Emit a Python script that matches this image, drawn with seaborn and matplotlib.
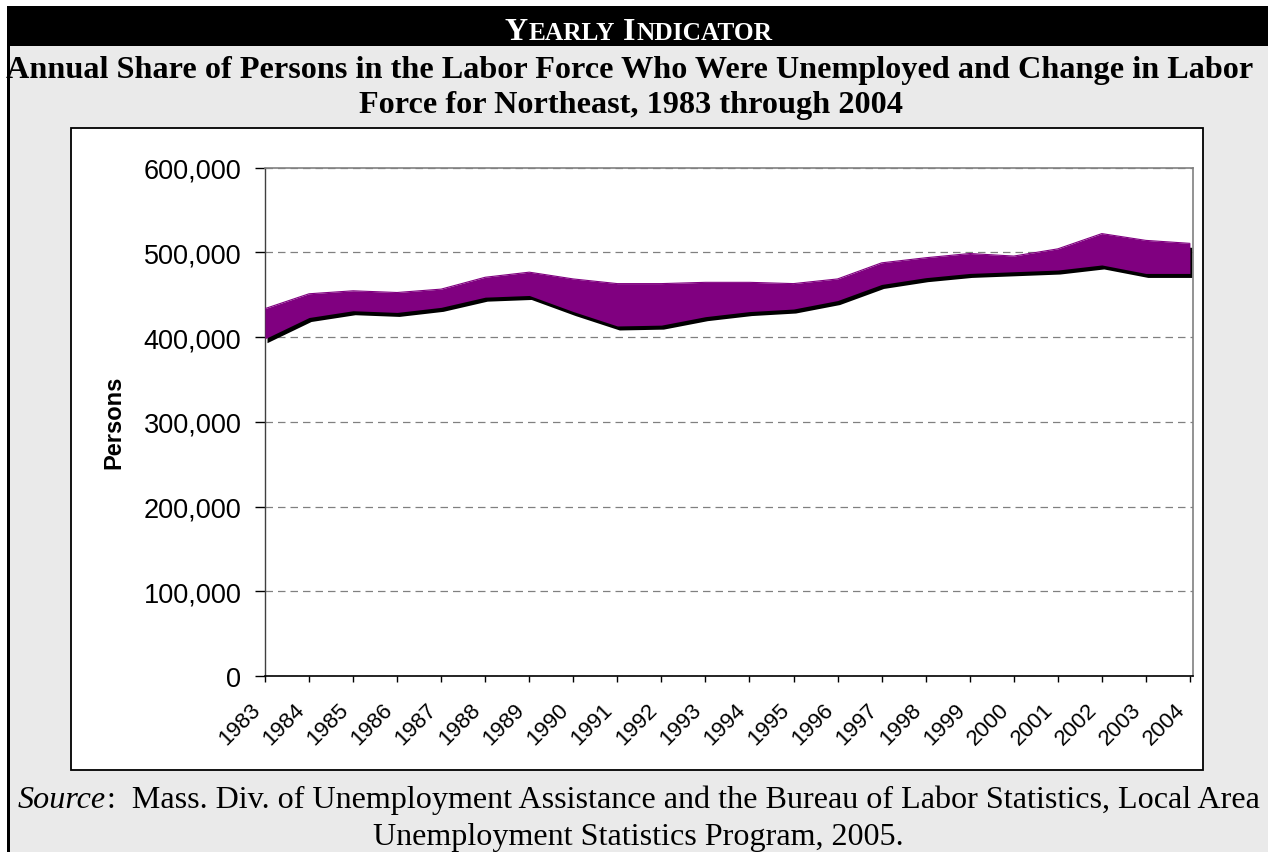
import numpy as np
import pandas as pd
import matplotlib
matplotlib.use('Agg')
import matplotlib.pyplot as plt
import matplotlib.ticker as mticker
import matplotlib.transforms as mtransforms
from matplotlib.patches import Rectangle
import seaborn as sns

# Data
years = list(range(1983, 2005))
employed = [398000, 423000, 431000, 429000, 435000, 447000, 449000, 430000, 413000, 414000, 424000,
            430000, 433000, 443000, 462000, 470000, 475000, 477000, 479000, 485000, 475000, 475000]
labor_force = [433500, 451000, 454500, 452500, 456500, 470500, 476500, 468500, 463000, 463000, 464500,
               464500, 463000, 468500, 487500, 493500, 498500, 495500, 504000, 522000, 514000, 510500]
y_ticks = [0, 100000, 200000, 300000, 400000, 500000, 600000]

header_runs = [('Y', 23), ('EARLY', 18.3), (' ', 18.3), ('I', 23), ('NDICATOR', 18.3)]
title_lines = ['Annual Share of Persons in the Labor Force Who Were Unemployed and Change in Labor',
               'Force for Northeast, 1983 through 2004']
source_line1 = ':  Mass. Div. of Unemployment Assistance and the Bureau of Labor Statistics, Local Area'
source_line2 = 'Unemployment Statistics Program, 2005.'

W, H = 1268, 853
sns.set_theme(style='white')
plt.rcParams['font.family'] = ['Liberation Sans', 'DejaVu Sans']

fig = plt.figure(figsize=(W / 100, H / 100), dpi=100)
fig.patch.set_facecolor('white')


def fx(x):
	return x / W


def fy(y):
	return 1 - y / H


def box(x0, y0, x1, y1, **kw):
	fig.add_artist(Rectangle((fx(x0), fy(y1)), fx(x1) - fx(x0), fy(y0) - fy(y1),
	                         transform=fig.transFigure, **kw))


def draw_runs(runs, cx, base_y, **common):
	# lay out pieces of text side by side, centred on cx
	r = fig.canvas.get_renderer()
	items = []
	total = 0
	for s, kw in runs:
		if s.strip() == '':
			w = 0.25 * kw['fontsize'] * fig.dpi / 72 * len(s)
			items.append((None, w))
		else:
			t = fig.text(0, fy(base_y), s, va='baseline', ha='left', **common, **kw)
			w = t.get_window_extent(r).width + 1
			items.append((t, w))
		total += w
	x = cx - total / 2
	for t, w in items:
		if t is not None:
			t.set_x(fx(x))
		x += w


# Frame pieces
box(7, 47, W, H, fc='#EAEAEA', ec='none', zorder=-5)
box(7, 47, 9.5, H, fc='black', ec='none', zorder=-4)
box(7, 7, W, 47, fc='black', ec='none', zorder=-4)
box(71, 129, 1203, 771, fc='white', ec='black', lw=1.3, zorder=-3)

serif = ['Liberation Serif', 'DejaVu Serif']
draw_runs([(s, {'fontsize': fs}) for s, fs in header_runs], 639, 40,
          family=serif, fontweight='bold', color='white')
fig.text(fx(630), fy(78), title_lines[0], ha='center', va='baseline', family=serif,
         fontweight='bold', fontsize=23.2, color='black')
fig.text(fx(631), fy(113), title_lines[1], ha='center', va='baseline', family=serif,
         fontweight='bold', fontsize=23.2, color='black')
draw_runs([('Source', {'fontsize': 23.1, 'fontstyle': 'italic'}), (source_line1, {'fontsize': 23.1})],
          639, 808, family=serif, color='black')
fig.text(fx(638), fy(845), source_line2, ha='center', va='baseline', family=serif,
         fontsize=23.1, color='black')

# Plot area
ax = fig.add_axes([fx(265), fy(677), fx(1193) - fx(265), (677 - 168.5) / H])
ax.set_facecolor('white')

df = pd.DataFrame({'year': years, 'employed': employed, 'labor_force': labor_force})

shadow = mtransforms.offset_copy(ax.transData, fig=fig, x=2, y=-4, units='dots')
ax.fill_between(df['year'], df['employed'], df['labor_force'], color='black', lw=0,
                transform=shadow, zorder=2)
ax.fill_between(df['year'], df['employed'], df['labor_force'], color='#800080', lw=0, zorder=3)
sns.lineplot(data=df, x='year', y='labor_force', color='#800080', lw=0.8, ax=ax, zorder=3)

ax.set_xlim(1983, 2004.07)
ax.set_ylim(0, 600000)
ax.set_xticks(years)
ax.set_xticklabels([str(y) for y in years])
ax.set_yticks(y_ticks)
ax.yaxis.set_major_formatter(mticker.StrMethodFormatter('{x:,.0f}'))
ax.tick_params(axis='y', direction='out', length=7, width=1, color='black', labelsize=19.5,
               labelcolor='black', pad=10, left=True)
ax.tick_params(axis='x', direction='out', length=4.5, width=1, color='black', labelsize=16,
               labelcolor='black', pad=12, bottom=True)
shift = mtransforms.ScaledTranslation(-15 / 100, 0, fig.dpi_scale_trans)
for lab in ax.get_xticklabels():
	lab.set_rotation(45)
	lab.set_ha('right')
	lab.set_va('top')
	lab.set_rotation_mode('anchor')
	lab.set_transform(lab.get_transform() + shift)

ax.yaxis.grid(True, color='#808080', linestyle=(0, (6, 4)), lw=0.9)
ax.xaxis.grid(False)
ax.set_axisbelow(True)

for side in ['top', 'right']:
	ax.spines[side].set_color('#808080')
	ax.spines[side].set_linewidth(1.2)
ax.spines['left'].set_color('#404040')
ax.spines['left'].set_linewidth(1)
ax.spines['bottom'].set_color('black')
ax.spines['bottom'].set_linewidth(1.2)

ax.set_xlabel('')
ax.set_ylabel('Persons', fontsize=17, fontweight='bold', color='black')
ax.yaxis.set_label_coords((114 - 265) / 928, 0.5)
ax.yaxis.label.set_verticalalignment('center')

fig.savefig('out.png', dpi=100)
